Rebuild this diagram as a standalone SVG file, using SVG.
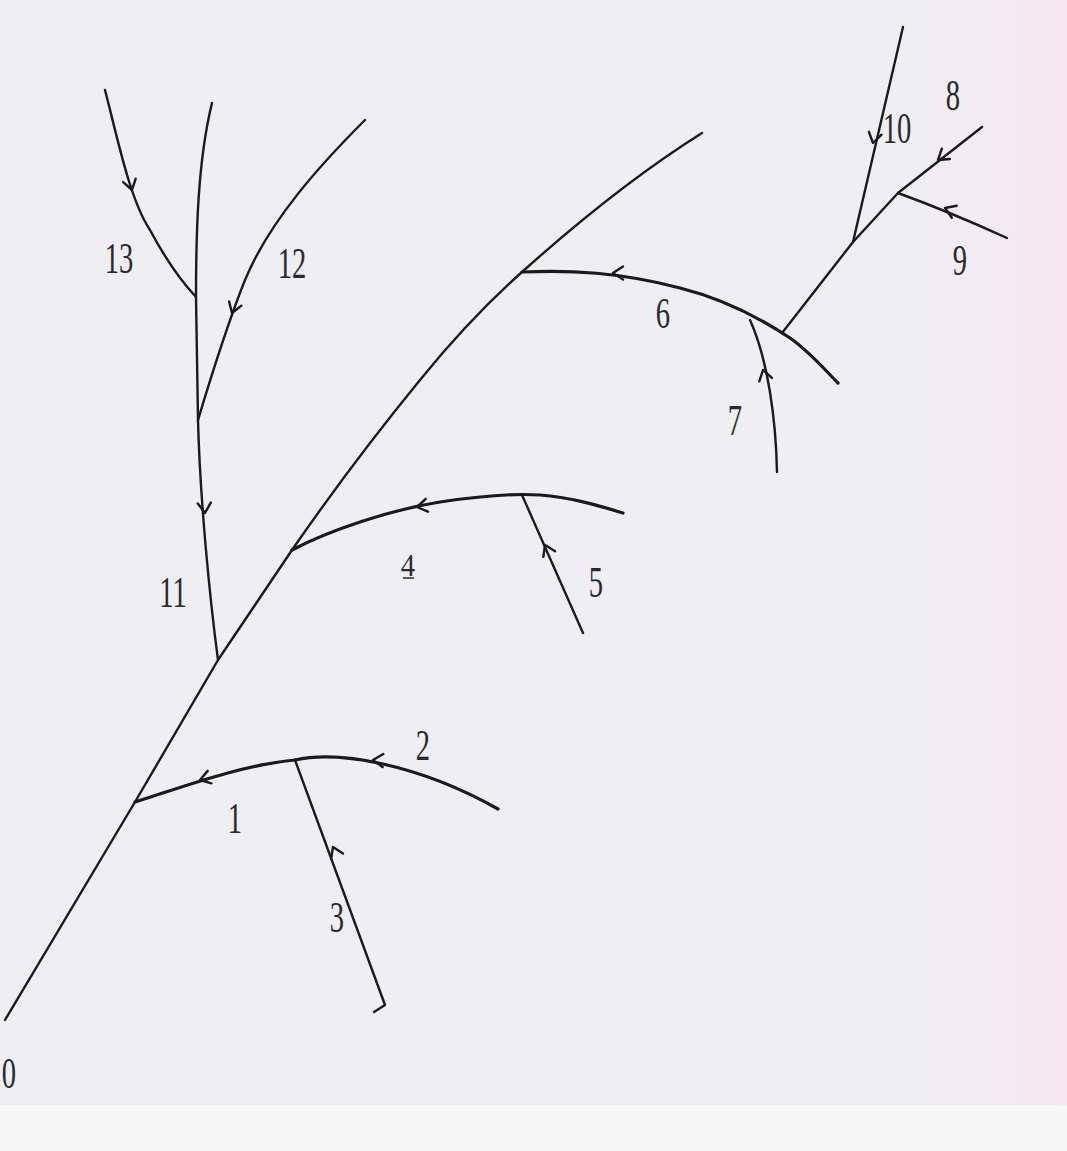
<svg xmlns="http://www.w3.org/2000/svg" xmlns:xlink="http://www.w3.org/1999/xlink" width="1067" height="1151" viewBox="0 0 1067 1151">
<style>
.s{fill:none;stroke:#1a1a1a;stroke-width:2.4;stroke-linecap:round;stroke-linejoin:round}
.t{fill:none;stroke:#1a1a1a;stroke-width:3.2;stroke-linecap:round;stroke-linejoin:round}
.l{font-family:"Liberation Serif","Times New Roman",serif;font-size:44px;fill:#2a2a2a;text-anchor:middle}
</style>
<defs>
<linearGradient id="edge" x1="0" y1="0" x2="1" y2="0">
<stop offset="0" stop-color="#efeef2" stop-opacity="0"/>
<stop offset="1" stop-color="#f6e6ee"/>
</linearGradient>
<path id="chev" d="M-10,-6.5 L0,0 L-10,6.5" fill="none" stroke="#1a1a1a" stroke-width="2.4" stroke-linecap="round" stroke-linejoin="round"/>
</defs>
<rect x="0" y="0" width="1067" height="1151" fill="#efeef2"/>
<rect x="900" y="0" width="167" height="1105" fill="url(#edge)"/>
<rect x="0" y="1105" width="1067" height="46" fill="#f7f7f7"/>

<g id="connectors">
<path id="main" class="s" d="M5,1020 L135,802 L218,660 L292,550 C330,495 375,435 420,380 C450,343 485,305 522,272 C580,220 640,172 702,133"/>
<path id="r1" class="t" d="M135,802 C180,788 240,765 295,760"/>
<path id="r2" class="t" d="M295,760 C340,750 420,765 498,809"/>
<path id="r3" class="s" d="M295,760 L385,1005 L374,1012"/>
<path id="r4" class="t" d="M292,550 C330,530 390,510 440,502 C480,496 510,493 540,495 C570,497 600,506 623,513"/>
<path id="r5" class="s" d="M522,495 L583,633"/>
<path id="r6" class="t" d="M522,272 C570,270 620,272 680,288 C720,298 760,318 790,338 C810,352 825,370 838,383"/>
<path id="r7" class="s" d="M750,320 C768,360 776,420 777,472"/>
<path id="r8" class="s" d="M782,333 L853,242 L898,193 L982,127"/>
<path id="r9" class="s" d="M898,193 Q950,212 1007,238"/>
<path id="r10" class="s" d="M853,242 L903,27"/>
<path id="r11" class="s" d="M218,660 C210,600 200,500 198,420 L196,297 C196,230 198,160 212,103"/>
<path id="r12" class="s" d="M365,120 C320,165 270,220 245,280 C225,330 210,380 198,420"/>
<path id="r13" class="s" d="M105,90 C118,140 130,200 150,230 C165,258 180,280 196,297"/>
<use xlink:href="#chev" transform="translate(200,780) rotate(163)"/>
<use xlink:href="#chev" transform="translate(373,760) rotate(183)"/>
<use xlink:href="#chev" transform="translate(333,847) rotate(246)"/>
<use xlink:href="#chev" transform="translate(417,507) rotate(170)"/>
<use xlink:href="#chev" transform="translate(545,545) rotate(245)"/>
<use xlink:href="#chev" transform="translate(613,273) rotate(180)"/>
<use xlink:href="#chev" transform="translate(763,370) rotate(255)"/>
<use xlink:href="#chev" transform="translate(938,160) rotate(142)"/>
<use xlink:href="#chev" transform="translate(945,208) rotate(202)"/>
<use xlink:href="#chev" transform="translate(873,143) rotate(103)"/>
<use xlink:href="#chev" transform="translate(205,513) rotate(86)"/>
<use xlink:href="#chev" transform="translate(232,313) rotate(109)"/>
<use xlink:href="#chev" transform="translate(132,190) rotate(75)"/>
</g>

<g id="n0"><text class="l" transform="translate(9,1088) scale(0.65,1)">0</text></g>
<g id="n1"><text class="l" transform="translate(235,833) scale(0.65,1)">1</text></g>
<g id="n2"><text class="l" transform="translate(423,760) scale(0.65,1)">2</text></g>
<g id="n3"><text class="l" transform="translate(337,932) scale(0.65,1)">3</text></g>
<g id="n4"><text class="l" transform="translate(408,576) scale(0.65,0.7)">4</text><line x1="403" y1="578" x2="414" y2="578" stroke="#2a2a2a" stroke-width="1.5"/></g>
<g id="n5"><text class="l" transform="translate(596,597) scale(0.65,1)">5</text></g>
<g id="n6"><text class="l" transform="translate(663,328) scale(0.65,1)">6</text></g>
<g id="n7"><text class="l" transform="translate(735,435) scale(0.65,1)">7</text></g>
<g id="n8"><text class="l" transform="translate(953,110) scale(0.65,1)">8</text></g>
<g id="n9"><text class="l" transform="translate(960,275) scale(0.65,1)">9</text></g>
<g id="n10"><text class="l" transform="translate(897,143) scale(0.65,1)">10</text></g>
<g id="n11"><text class="l" transform="translate(173,607) scale(0.65,1)">11</text></g>
<g id="n12"><text class="l" transform="translate(292,278) scale(0.65,1)">12</text></g>
<g id="n13"><text class="l" transform="translate(119,273) scale(0.65,1)">13</text></g>
</svg>
